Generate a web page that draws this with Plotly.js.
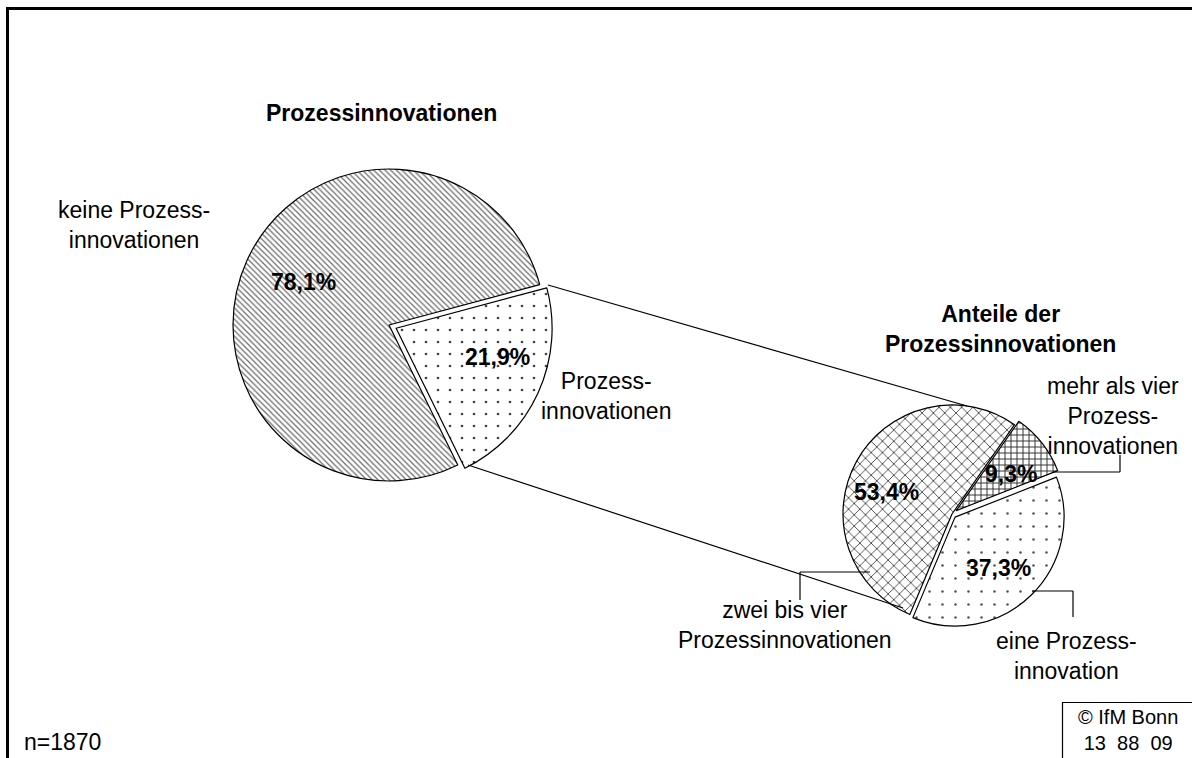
<!DOCTYPE html>
<html>
<head>
<meta charset="utf-8">
<script src="https://cdn.plot.ly/plotly-3.0.1.min.js"></script>
<style>html,body{margin:0;padding:0;background:#fff;}#chart{width:1192px;height:758px;}</style>
</head>
<body>
<div id="chart"></div>
<script>
// ---- data ----
var mainLabels = ["Prozessinnovationen", "keine Prozessinnovationen"];
var mainValues = [21.9, 78.1];
var subLabels = ["mehr als vier Prozessinnovationen", "eine Prozessinnovation", "zwei bis vier Prozessinnovationen"];
var subValues = [9.3, 37.3, 53.4];
var mainTitle = "Prozessinnovationen";
var subTitle = "Anteile der<br>Prozessinnovationen";
var mainOuterLabels = ["Prozess-<br>innovationen", "keine Prozess-<br>innovationen"];
var subOuterLabels = ["mehr als vier<br>Prozess-<br>innovationen", "eine Prozess-<br>innovation", "zwei bis vier<br>Prozessinnovationen"];
var sampleNote = "n=1870";
var sourceNote = "© IfM Bonn<br>13  88  09";

// ---- layout helpers ----
var W = 1192, H = 758;
function px(x) { return x / W; }
function py(y) { return 1 - y / H; }
function pct(v) { return v.toFixed(1).replace('.', ',') + '%'; }
function domainFor(cx, cy, r, pull) {
  var h = r * (1 + pull);
  return { x: [px(cx - h), px(cx + h)], y: [py(cy + h), py(cy - h)] };
}
var FONT = "Liberation Sans, Arial, sans-serif";

var mainPull = [0.05, 0];
var subPull = [0.05, 0.04, 0];

var traces = [
  {
    type: 'pie', values: mainValues, labels: mainLabels, sort: false,
    direction: 'clockwise', rotation: 75, pull: mainPull,
    domain: domainFor(389, 325, 156, 0.05),
    textinfo: 'none', hoverinfo: 'label+value', showlegend: false,
    marker: {
      colors: ['white', 'white'],
      line: { color: 'black', width: 1.2 },
      pattern: { shape: ['.', '\\'], fgcolor: ['#444', '#6a6a6a'], bgcolor: ['white', 'white'],
                 size: [12, 4], solidity: [0.04, 0.3], fillmode: 'replace' }
    }
  },
  {
    type: 'pie', values: subValues, labels: subLabels, sort: false,
    direction: 'clockwise', rotation: 35, pull: subPull,
    domain: domainFor(952, 514, 109, 0.05),
    textinfo: 'none', hoverinfo: 'label+value', showlegend: false,
    marker: {
      colors: ['white', 'white', 'white'],
      line: { color: 'black', width: 1.2 },
      pattern: { shape: ['+', '.', 'x'], fgcolor: ['#333', '#555', '#222'], bgcolor: ['white', 'white', 'white'],
                 size: [6, 13, 8], solidity: [0.3, 0.03, 0.18], fillmode: 'replace' }
    }
  }
];

var ann = [];
function addText(x, y, t, size, bold, extra) {
  var a = { xref: 'paper', yref: 'paper', x: px(x), y: py(y), text: bold ? '<b>' + t + '</b>' : t,
            showarrow: false, xanchor: 'center', yanchor: 'middle', align: 'center',
            font: { family: FONT, size: size, color: 'black' } };
  if (extra) for (var k in extra) a[k] = extra[k];
  ann.push(a);
}
var FS = 23;
// titles
addText(381, 113, mainTitle, FS, true);
addText(1000, 329, subTitle, FS, true);
// percentage labels (main pie: [21.9, 78.1])
addText(497, 357, pct(mainValues[0]), FS, true);
addText(303, 282, pct(mainValues[1]), FS, true);
// percentage labels (sub pie: [9.3, 37.3, 53.4])
addText(1011, 474, pct(subValues[0]), FS, true);
addText(998, 568, pct(subValues[1]), FS, true);
addText(886, 492, pct(subValues[2]), FS, true);
// outer labels
addText(606, 396, mainOuterLabels[0], FS, false);
addText(134, 225, mainOuterLabels[1], FS, false);
addText(1113, 416, subOuterLabels[0], FS, false);
addText(1066, 656, subOuterLabels[1], FS, false);
addText(785, 625, subOuterLabels[2], FS, false);
// notes
addText(62, 742, sampleNote, FS, false);
addText(1128, 730, sourceNote, 20, false);

function line(x0, y0, x1, y1, w) {
  return { type: 'line', xref: 'paper', yref: 'paper', x0: px(x0), y0: py(y0), x1: px(x1), y1: py(y1),
           line: { color: 'black', width: w || 1.2 } };
}
var shapes = [
  // frame
  line(7.5, 7, 7.5, 760, 3),
  line(6, 8.5, 1194, 8.5, 3),
  // connectors between pies
  line(548, 285, 967, 406),
  line(468, 465, 903, 608),
  // leader lines
  line(1053, 472, 1120, 472), line(1120, 472, 1120, 455),
  line(870, 572, 800, 572), line(800, 572, 800, 600),
  line(1032, 591, 1073, 591), line(1073, 591, 1073, 617),
  // source box
  line(1062.5, 702, 1062.5, 760, 1.2),
  line(1062, 702.5, 1194, 702.5, 1.2)
];

var layout = {
  width: W, height: H, margin: { l: 0, r: 0, t: 0, b: 0 },
  paper_bgcolor: 'white', plot_bgcolor: 'white',
  separators: ',.', showlegend: false,
  font: { family: FONT, color: 'black' },
  annotations: ann, shapes: shapes
};
Plotly.newPlot('chart', traces, layout, { displayModeBar: false, staticPlot: true });
</script>
</body>
</html>
